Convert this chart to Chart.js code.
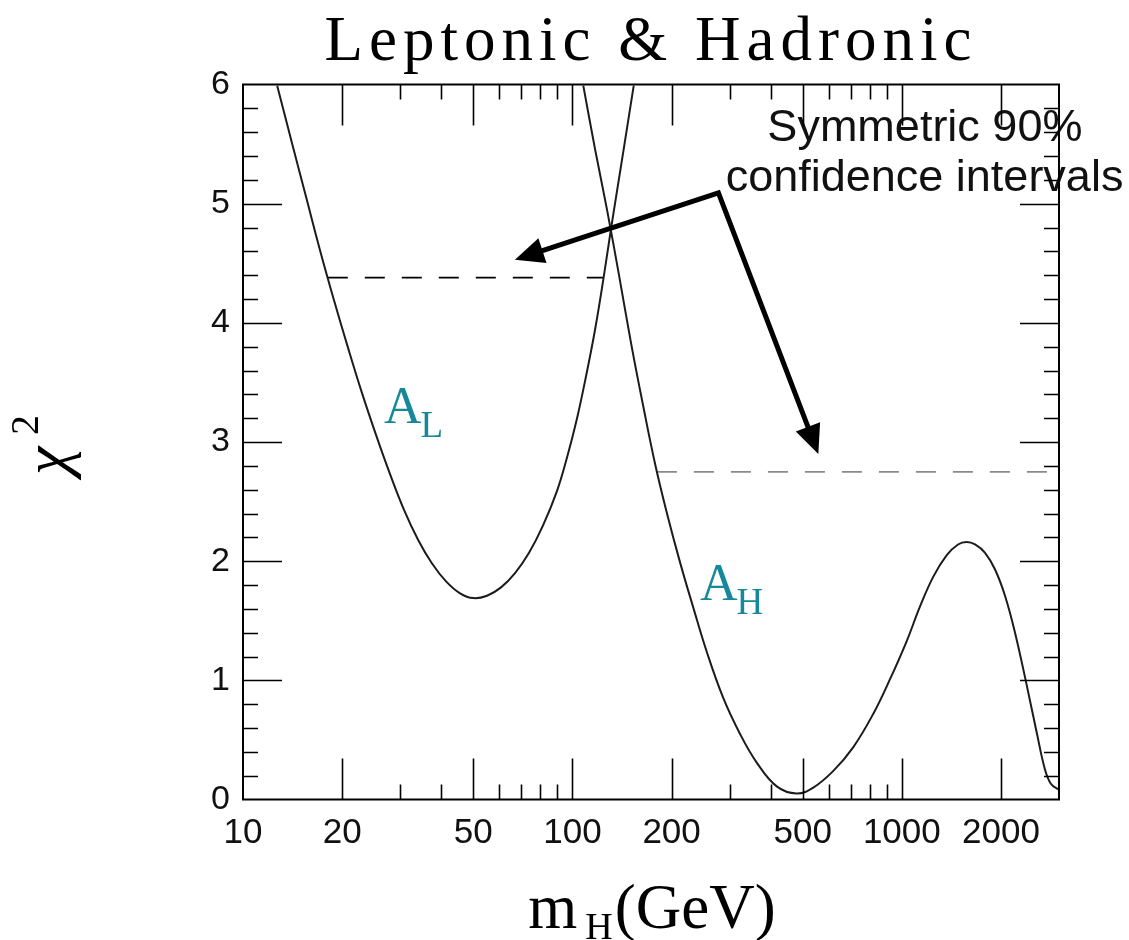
<!DOCTYPE html>
<html>
<head>
<meta charset="utf-8">
<script src="https://cdn.jsdelivr.net/npm/chart.js@4.4.1/dist/chart.umd.min.js"></script>
<style>
  html, body { margin: 0; padding: 0; background: #ffffff; }
  canvas { display: block; }
</style>
</head>
<body>
<canvas id="chart" width="1129" height="940"></canvas>
<script>
// Axis ticks
const massTicks = [10, 20, 50, 100, 200, 500, 1000, 2000];
const majorMass = [20, 50, 100, 200, 500, 1000, 2000];
const minorMass = [30, 40, 60, 70, 80, 90, 300, 400, 600, 700, 800, 900];
const chi2Ticks = [0, 1, 2, 3, 4, 5, 6];

// chi^2 versus Higgs mass, A_L fit
const massAL = [12.7, 14.08, 15.53, 17.13, 18.89, 20.84, 22.98, 25.34, 27.95, 30.82, 33.99, 37.49,
                41.34, 45.59, 50.02, 55.05, 60.71, 66.96, 73.84, 81.44, 89.81, 96.30, 103.3,
                109.95, 117.1, 123.9, 131.0, 142.4, 153.5];
const chi2AL = [5.99, 5.51, 5.06, 4.61, 4.19, 3.79, 3.41, 3.06, 2.73, 2.43, 2.18, 1.98,
                1.83, 1.73, 1.69, 1.71, 1.78, 1.90, 2.07, 2.30, 2.59, 2.87, 3.20,
                3.55, 3.94, 4.35, 4.79, 5.42, 5.99];

// chi^2 versus Higgs mass, A_H fit
const massAH = [107.9, 117.1, 127.35, 138.5, 150.65, 163.8, 178.1, 193.7, 212.2, 232.8, 255.7,
                287.2, 322.8, 362.7, 417.1, 479.7, 538.7, 619.5, 712.5, 819.4, 920.8, 1034.9,
                1135.7, 1246.3, 1368.8, 1481.3, 1574, 1668, 1789, 1918.5, 2057, 2206, 2394,
                2568, 2721, 2838, 3000];
const chi2AH = [5.99, 5.46, 4.95, 4.40, 3.83, 3.31, 2.82, 2.40, 1.99, 1.61, 1.24,
                0.85, 0.55, 0.31, 0.11, 0.05, 0.10, 0.24, 0.44, 0.72, 1.01, 1.33,
                1.62, 1.87, 2.05, 2.14, 2.16, 2.14, 2.07, 1.93, 1.71, 1.40, 0.96,
                0.56, 0.25, 0.13, 0.08];

// 90% confidence intervals (minimum + 2.71)
const intervalAL = [18.09, 124.3];
const levelAL = 4.38;
const intervalAH = [180.5, 3000];
const levelAH = 2.75;

// Arrow geometry in (mass, chi^2)
const arrowApex = [277.5, 5.09];
const arrowTipAL = [66.9, 4.53];
const arrowTipAH = [557.8, 2.90];

const toPoints = (xs, ys) => xs.map((x, i) => ({ x: x, y: ys[i] }));

const whiteBackground = {
  id: 'whiteBackground',
  beforeDraw(chart) {
    const ctx = chart.ctx;
    ctx.save();
    ctx.fillStyle = '#ffffff';
    ctx.fillRect(0, 0, chart.width, chart.height);
    ctx.restore();
  }
};

function drawArrowHead(ctx, fromX, fromY, tipX, tipY, len, half) {
  const a = Math.atan2(tipY - fromY, tipX - fromX);
  const bx = tipX - Math.cos(a) * len;
  const by = tipY - Math.sin(a) * len;
  ctx.beginPath();
  ctx.moveTo(tipX, tipY);
  ctx.lineTo(bx + Math.sin(a) * half, by - Math.cos(a) * half);
  ctx.lineTo(bx - Math.sin(a) * half, by + Math.cos(a) * half);
  ctx.closePath();
  ctx.fill();
}

const annotations = {
  id: 'annotations',
  afterDatasetsDraw(chart) {
    const ctx = chart.ctx;
    const xs = chart.scales.x, ys = chart.scales.y;
    const px = m => xs.getPixelForValue(m);
    const py = v => ys.getPixelForValue(v);
    ctx.save();

    // Curve labels
    ctx.fillStyle = '#15899a';
    ctx.textBaseline = 'alphabetic';
    ctx.textAlign = 'left';
    const label = (m, v, sub) => {
      const x = px(m), y = py(v);
      ctx.font = '52px "Liberation Serif"';
      ctx.fillText('A', x, y);
      const w = ctx.measureText('A').width;
      ctx.font = '37px "Liberation Serif"';
      ctx.fillText(sub, x + w - 1, y + 14);
    };
    label(26.8, 3.16, 'L');
    label(243.9, 1.67, 'H');

    // Arrow note
    ctx.fillStyle = '#111111';
    ctx.font = '45px "Liberation Sans"';
    ctx.textAlign = 'center';
    ctx.fillText('Symmetric 90%', px(1175), py(5.53));
    ctx.fillText('confidence intervals', px(1172), py(5.11));

    // Arrows
    const ax = px(arrowApex[0]), ay = py(arrowApex[1]);
    const lx = px(arrowTipAL[0]), ly = py(arrowTipAL[1]);
    const dx = px(arrowTipAH[0]), dy = py(arrowTipAH[1]);
    const headLen = 29, headHalf = 13;
    const back = (fx, fy, tx, ty, d) => {
      const a = Math.atan2(ty - fy, tx - fx);
      return [tx - Math.cos(a) * d, ty - Math.sin(a) * d];
    };
    const lb = back(ax, ay, lx, ly, headLen - 4);
    const db = back(ax, ay, dx, dy, headLen - 4);
    ctx.strokeStyle = '#000000';
    ctx.fillStyle = '#000000';
    ctx.lineWidth = 5;
    ctx.lineJoin = 'miter';
    ctx.lineCap = 'butt';
    ctx.beginPath();
    ctx.moveTo(lb[0], lb[1]);
    ctx.lineTo(ax, ay);
    ctx.lineTo(db[0], db[1]);
    ctx.stroke();
    drawArrowHead(ctx, ax, ay, lx, ly, headLen, headHalf);
    drawArrowHead(ctx, ax, ay, dx, dy, headLen, headHalf);
    ctx.restore();
  }
};

const frameAndText = {
  id: 'frameAndText',
  afterDraw(chart) {
    const ctx = chart.ctx;
    const a = chart.chartArea;
    const xs = chart.scales.x, ys = chart.scales.y;
    ctx.save();

    // Inner tick marks on all four sides
    ctx.strokeStyle = '#000000';
    ctx.lineWidth = 1.6;
    ctx.beginPath();
    const xTick = (m, len) => {
      const x = Math.round(xs.getPixelForValue(m)) + 0.5;
      ctx.moveTo(x, a.bottom); ctx.lineTo(x, a.bottom - len);
      ctx.moveTo(x, a.top); ctx.lineTo(x, a.top + len);
    };
    majorMass.forEach(m => xTick(m, 41));
    minorMass.forEach(m => xTick(m, 15));
    for (let k = 1; k < 30; k++) {
      const v = k / 5;
      const len = (k % 5 === 0) ? 39 : 15;
      const y = Math.round(ys.getPixelForValue(v)) + 0.5;
      ctx.moveTo(a.left, y); ctx.lineTo(a.left + len, y);
      ctx.moveTo(a.right, y); ctx.lineTo(a.right - len, y);
    }
    ctx.stroke();

    // Frame
    ctx.lineWidth = 2;
    ctx.strokeRect(a.left, a.top, a.right - a.left, a.bottom - a.top);

    // Title
    ctx.fillStyle = '#000000';
    ctx.font = '63px "Liberation Serif"';
    ctx.textAlign = 'center';
    ctx.textBaseline = 'alphabetic';
    try { ctx.letterSpacing = '6px'; } catch (e) {}
    ctx.fillText('Leptonic & Hadronic', (a.left + a.right) / 2, 60);
    try { ctx.letterSpacing = '0px'; } catch (e) {}

    // x-axis title: m_H(GeV)
    ctx.textAlign = 'left';
    ctx.font = '63px "Liberation Serif"';
    const wM = ctx.measureText('m').width;
    const wG = ctx.measureText('(GeV)').width;
    ctx.font = '38px "Liberation Serif"';
    const wH = ctx.measureText('H').width;
    const gap1 = 8, gap2 = 2;
    const total = wM + gap1 + wH + gap2 + wG;
    const x0 = (a.left + a.right) / 2 + 1 - total / 2;
    ctx.font = '63px "Liberation Serif"';
    ctx.fillText('m', x0, 928);
    ctx.font = '38px "Liberation Serif"';
    ctx.fillText('H', x0 + wM + gap1, 939);
    ctx.font = '63px "Liberation Serif"';
    ctx.fillText('(GeV)', x0 + wM + gap1 + wH + gap2, 928);

    // y-axis title: chi^2, rotated
    ctx.translate(67, 475);
    ctx.rotate(-Math.PI / 2);
    ctx.font = 'italic 64px "Liberation Serif"';
    ctx.fillText('\u03c7', 0, 0);
    ctx.font = '40px "Liberation Serif"';
    ctx.fillText('2', 40, -29);
    ctx.restore();
  }
};

const tickFont = { family: '"Liberation Sans"', size: 35 };

new Chart(document.getElementById('chart'), {
  type: 'line',
  data: {
    datasets: [
      {
        label: 'A_L',
        data: toPoints(massAL, chi2AL),
        borderColor: '#1c1c1c',
        borderWidth: 2,
        pointRadius: 0,
        tension: 0.4,
        fill: false
      },
      {
        label: 'A_H',
        data: toPoints(massAH, chi2AH),
        borderColor: '#1c1c1c',
        borderWidth: 2,
        pointRadius: 0,
        tension: 0.4,
        fill: false
      },
      {
        label: 'A_L 90% CL',
        data: intervalAL.map(m => ({ x: m, y: levelAL })),
        borderColor: '#000000',
        borderWidth: 1.8,
        borderDash: [20, 17],
        pointRadius: 0,
        fill: false
      },
      {
        label: 'A_H 90% CL',
        data: intervalAH.map(m => ({ x: m, y: levelAH })),
        borderColor: '#8a8a8a',
        borderWidth: 1.8,
        borderDash: [20, 17],
        pointRadius: 0,
        fill: false
      }
    ]
  },
  options: {
    responsive: false,
    animation: false,
    devicePixelRatio: 1,
    layout: { padding: { top: 84.5, right: 70, bottom: 0, left: 0 } },
    plugins: {
      legend: { display: false },
      title: { display: false },
      tooltip: { enabled: false }
    },
    scales: {
      x: {
        type: 'logarithmic',
        min: 10,
        max: 3000,
        afterBuildTicks: s => { s.ticks = massTicks.map(v => ({ value: v })); },
        afterFit: s => { s.height = 140.5; },
        grid: { display: false, drawTicks: false },
        border: { display: false },
        ticks: {
          autoSkip: false,
          maxRotation: 0,
          minRotation: 0,
          padding: 13,
          color: '#111111',
          font: tickFont,
          callback: v => String(v)
        }
      },
      y: {
        type: 'linear',
        min: 0,
        max: 6,
        afterBuildTicks: s => { s.ticks = chi2Ticks.map(v => ({ value: v })); },
        afterFit: s => { s.width = 243; },
        grid: { display: false, drawTicks: false },
        border: { display: false },
        ticks: {
          padding: 13,
          color: '#111111',
          font: { family: '"Liberation Sans"', size: 34 },
          callback: v => String(v)
        }
      }
    }
  },
  plugins: [whiteBackground, annotations, frameAndText]
});
</script>
</body>
</html>
